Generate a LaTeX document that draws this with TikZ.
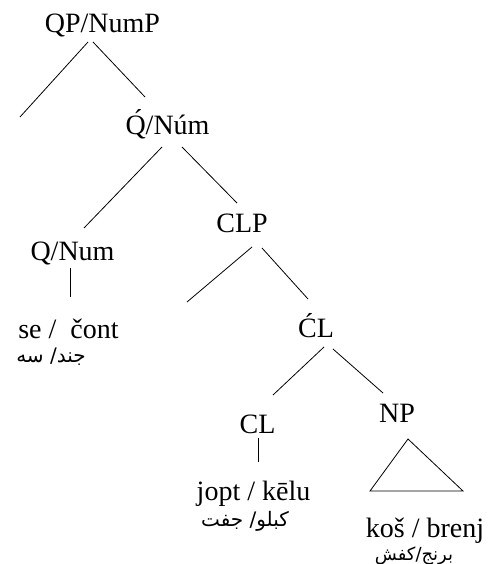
\documentclass[tikz,border=0pt]{standalone}
\usepackage{fontspec}
\setmainfont{Liberation Serif}
\newfontfamily\arabicfont[Script=Arabic]{DejaVu Sans}
\TeXXeTstate=1
\begin{document}
\begin{tikzpicture}[x=1pt,y=-1pt,
  lab/.style={anchor=base,inner sep=0pt,font=\fontsize{28}{30}\selectfont},
  ar/.style={anchor=base,inner sep=0pt,font=\arabicfont\fontsize{20}{22}\selectfont},
  br/.style={line width=0.8pt,black}]
\useasboundingbox (0,0) rectangle (488,564);
% labels
\node[lab] (qp)   at (102.5,33) {QP/NumP};
\node[lab] (qn)   at (167.5,135) {\'Q/N\'um};
\node[lab] (qn2)  at (72.5,260) {Q/Num};
\node[lab] (se)   at (68.5,338) {se /\ \ čont};
\node[ar]  (ar1)  at (51,362) {\beginR جند/ سه\endR};
\node[lab] (clp)  at (242,232) {CLP};
\node[lab] (cl1)  at (316,337) {\'CL};
\node[lab] (cl2)  at (257.5,433) {CL};
\node[lab] (np)   at (397,422) {NP};
\node[lab] (jopt) at (253.5,500) {jopt / kēlu};
\node[ar]  (ar2)  at (245,526) {\beginR كبلو/ جفت\endR};
\node[lab] (kos)  at (425,537) {koš / brenj};
\node[ar, font=\arabicfont\fontsize{18}{20}\selectfont] (ar3) at (414,560) {\beginR برنج/كفش\endR};
% free ends
\coordinate (e1) at (20,117);
\coordinate (e2) at (187,302);
% branches
\draw[br] ([shift={(-14.5,9)}]qp.base) -- (e1);
\draw[br] ([shift={(-9.5,9)}]qp.base) -- ([shift={(-22.5,-38)}]qn.base);
\draw[br] ([shift={(-5.5,12)}]qn.base) -- ([shift={(11.5,-32)}]qn2.base);
\draw[br] ([shift={(14.5,12)}]qn.base) -- ([shift={(-5,-29)}]clp.base);
\draw[br] ([shift={(10,15)}]clp.base) -- (e2);
\draw[br] ([shift={(20,16)}]clp.base) -- ([shift={(-8,-38)}]cl1.base);
\draw[br] ([shift={(8,10)}]cl1.base) -- ([shift={(15.5,-38)}]cl2.base);
\draw[br] ([shift={(17,12)}]cl1.base) -- ([shift={(-14,-29)}]np.base);
\draw[br] ([shift={(-2.5,8)}]qn2.base) -- ([shift={(1.5,-41)}]se.base);
\draw[br] ([shift={(0.5,5)}]cl2.base) -- ([shift={(4.5,-38)}]jopt.base);
\draw[br] ([shift={(11,17)}]np.base) -- ([shift={(-55,-46)}]kos.base) -- ([shift={(38,-46)}]kos.base) -- cycle;
\end{tikzpicture}
\end{document}
